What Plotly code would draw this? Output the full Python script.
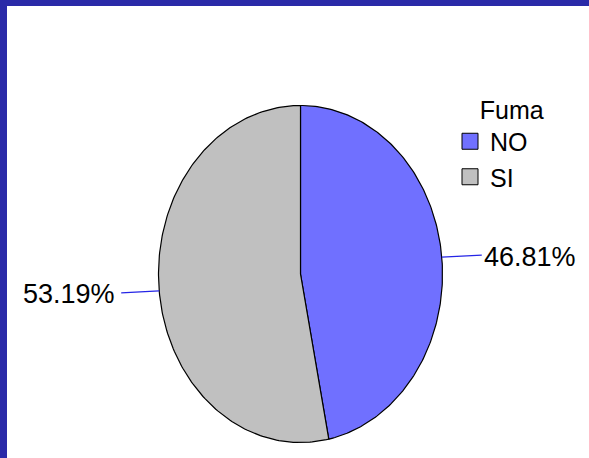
import numpy as np
import plotly.graph_objects as go

# ---- data ----
categories = ["NO", "SI"]
values = [46.81, 53.19]
colors = ["#7070FF", "#C0C0C0"]
legend_title = "Fuma"

# ---- geometry (pixel space, y downwards) ----
W, H = 589, 458
cx, cy = 300.5, 274.0
rx, ry = 142.0, 168.5

def ell(t):
    return cx + rx * np.sin(t), cy - ry * np.cos(t)

total = sum(values)
fig = go.Figure()
start = 0.0
label_specs = []
for cat, val, col in zip(categories, values, colors):
    frac = val / total
    t = np.linspace(start, start + frac, 200) * 2 * np.pi
    xs, ys = ell(t)
    fig.add_trace(go.Scatter(
        x=np.concatenate([[cx], xs, [cx]]),
        y=np.concatenate([[cy], ys, [cy]]),
        mode="lines", fill="toself", fillcolor=col,
        line=dict(color="black", width=1.2),
        hoverinfo="skip", showlegend=False,
    ))
    label_specs.append((start + frac / 2, f"{frac*100:.2f}%"))
    start += frac

# legend entries
for cat, col in zip(categories, colors):
    fig.add_trace(go.Scatter(
        x=[None], y=[None], mode="markers", name=cat,
        marker=dict(symbol="square", size=16, color=col,
                    line=dict(color="black", width=1)),
    ))

# leader lines + labels
for mid, txt in label_specs:
    ex, ey = ell(mid * 2 * np.pi)
    right = ex > cx
    lx = ex + 40 if right else ex - 38
    fig.add_trace(go.Scatter(
        x=[ex, lx], y=[ey, ey - 2 if right else ey + 2], mode="lines",
        line=dict(color="#2525E6", width=1.3),
        hoverinfo="skip", showlegend=False,
    ))
    fig.add_annotation(
        x=lx + (0 if right else -4), y=ey + (0 if right else 3), text=txt,
        showarrow=False, xanchor="left" if right else "right",
        yanchor="middle",
        font=dict(family="Liberation Sans, Arial", size=27, color="black"),
    )

# border (top and left bands)
border = "#2A2AA8"
fig.add_shape(type="rect", xref="paper", yref="paper", x0=0, x1=1,
              y0=1 - 6 / H, y1=1, fillcolor=border, line_width=0, layer="below")
fig.add_shape(type="rect", xref="paper", yref="paper", x0=0, x1=7 / W,
              y0=0, y1=1, fillcolor=border, line_width=0, layer="below")

fig.update_layout(
    width=W, height=H,
    margin=dict(l=0, r=0, t=0, b=0),
    paper_bgcolor="white", plot_bgcolor="white",
    xaxis=dict(range=[0, W], visible=False, fixedrange=True),
    yaxis=dict(range=[H, 0], visible=False, fixedrange=True),
    showlegend=True,
    legend=dict(
        title=dict(text="    " + legend_title,
                   font=dict(family="Liberation Sans, Arial", size=25, color="black")),
        font=dict(family="Liberation Sans, Arial", size=25, color="black"),
        x=450 / W, y=1 - 86 / H, xanchor="left", yanchor="top",
        bgcolor="rgba(0,0,0,0)", itemsizing="trace", tracegroupgap=0,
    ),
)

fig.write_html("out.html")
